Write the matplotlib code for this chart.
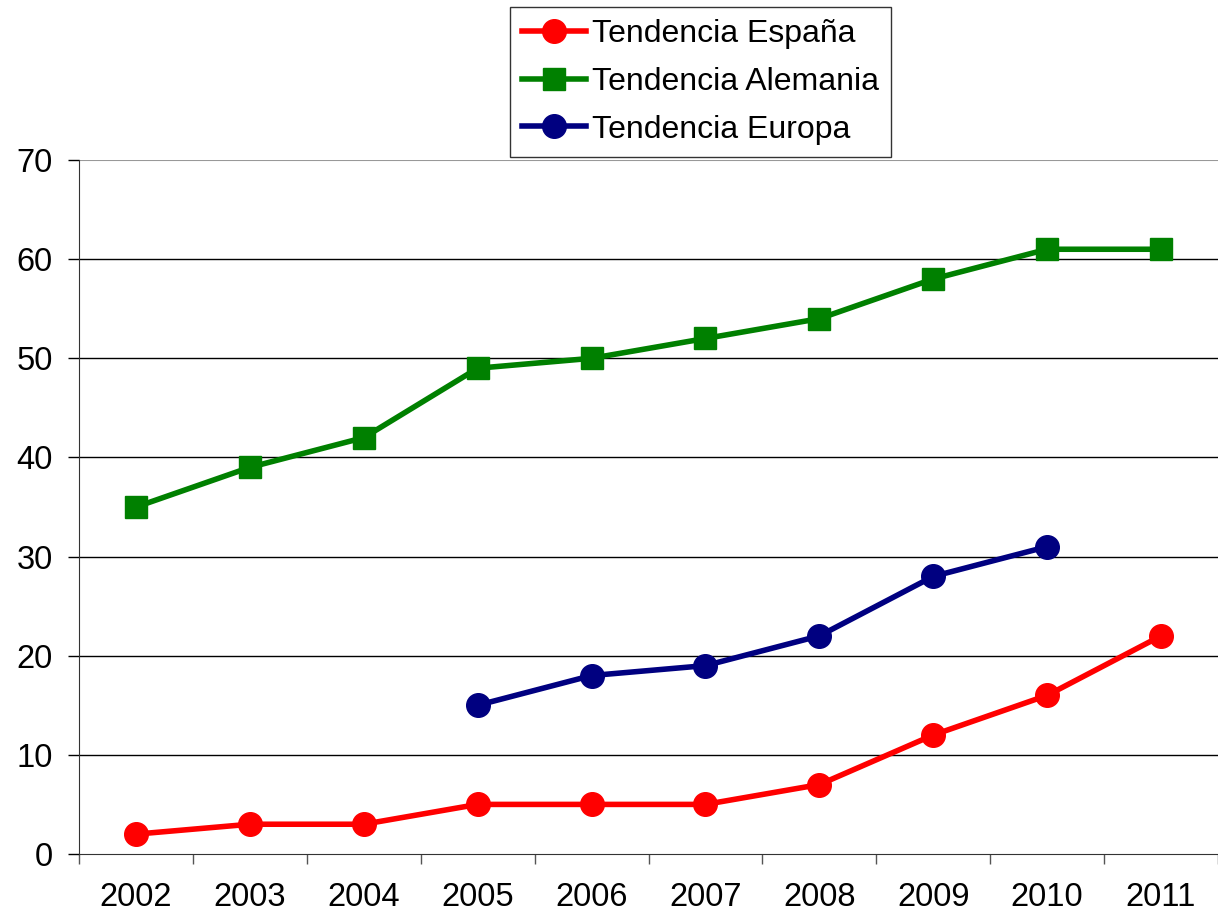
import matplotlib
matplotlib.use("Agg")
import matplotlib.pyplot as plt
import numpy as np

plt.rcParams["font.family"] = ["Liberation Sans", "DejaVu Sans"]

YEARS = ["2002", "2003", "2004", "2005", "2006", "2007", "2008", "2009", "2010", "2011"]
ESPANA = [2, 3, 3, 5, 5, 5, 7, 12, 16, 22]
ALEMANIA = [35, 39, 42, 49, 50, 52, 54, 58, 61, 61]
EUROPA = [np.nan, np.nan, np.nan, 15, 18, 19, 22, 28, 31, np.nan]

x = np.arange(len(YEARS))

fig = plt.figure(figsize=(12.18, 9.15), dpi=100)
ax = fig.add_axes([0.0649, 0.0667, 0.9351, 0.7584])

ax.plot(x, ESPANA, color="#FF0000", lw=4, marker="o", ms=17, label="Tendencia España")
ax.plot(x, ALEMANIA, color="#008000", lw=4, marker="s", ms=16.5, label="Tendencia Alemania")
ax.plot(x, EUROPA, color="#000080", lw=4, marker="o", ms=17, label="Tendencia Europa")

ax.set_ylim(0, 70)
ax.set_yticks(range(0, 71, 10))
ax.set_xlim(-0.5, len(YEARS) - 0.5)
ax.set_xticks(np.arange(-0.5, len(YEARS), 1.0))
ax.set_xticklabels([])
ax.set_xticks(x, minor=True)
ax.set_xticklabels(YEARS, minor=True)
ax.tick_params(axis="x", which="minor", length=0, pad=20, labelsize=23.5)
ax.tick_params(axis="x", which="major", length=7, width=1, color="#555555")
ax.tick_params(axis="y", length=8, width=1, pad=11, labelsize=23.5)

for v in range(10, 70, 10):
    ax.axhline(v, color="black", lw=1, zorder=0)
ax.axhline(70, color="#999999", lw=1.5, zorder=0)

for s in ["top", "right"]:
    ax.spines[s].set_visible(False)
ax.spines["left"].set_color("#333333")
ax.spines["bottom"].set_color("#333333")

fig.legend(loc="upper center", bbox_to_anchor=(0.575, 0.992), fontsize=23,
           frameon=True, fancybox=False, edgecolor="black", handlelength=2.0,
           borderpad=0.38, labelspacing=0.55, handletextpad=0.2, borderaxespad=0)

fig.savefig("out.png", dpi=100)
